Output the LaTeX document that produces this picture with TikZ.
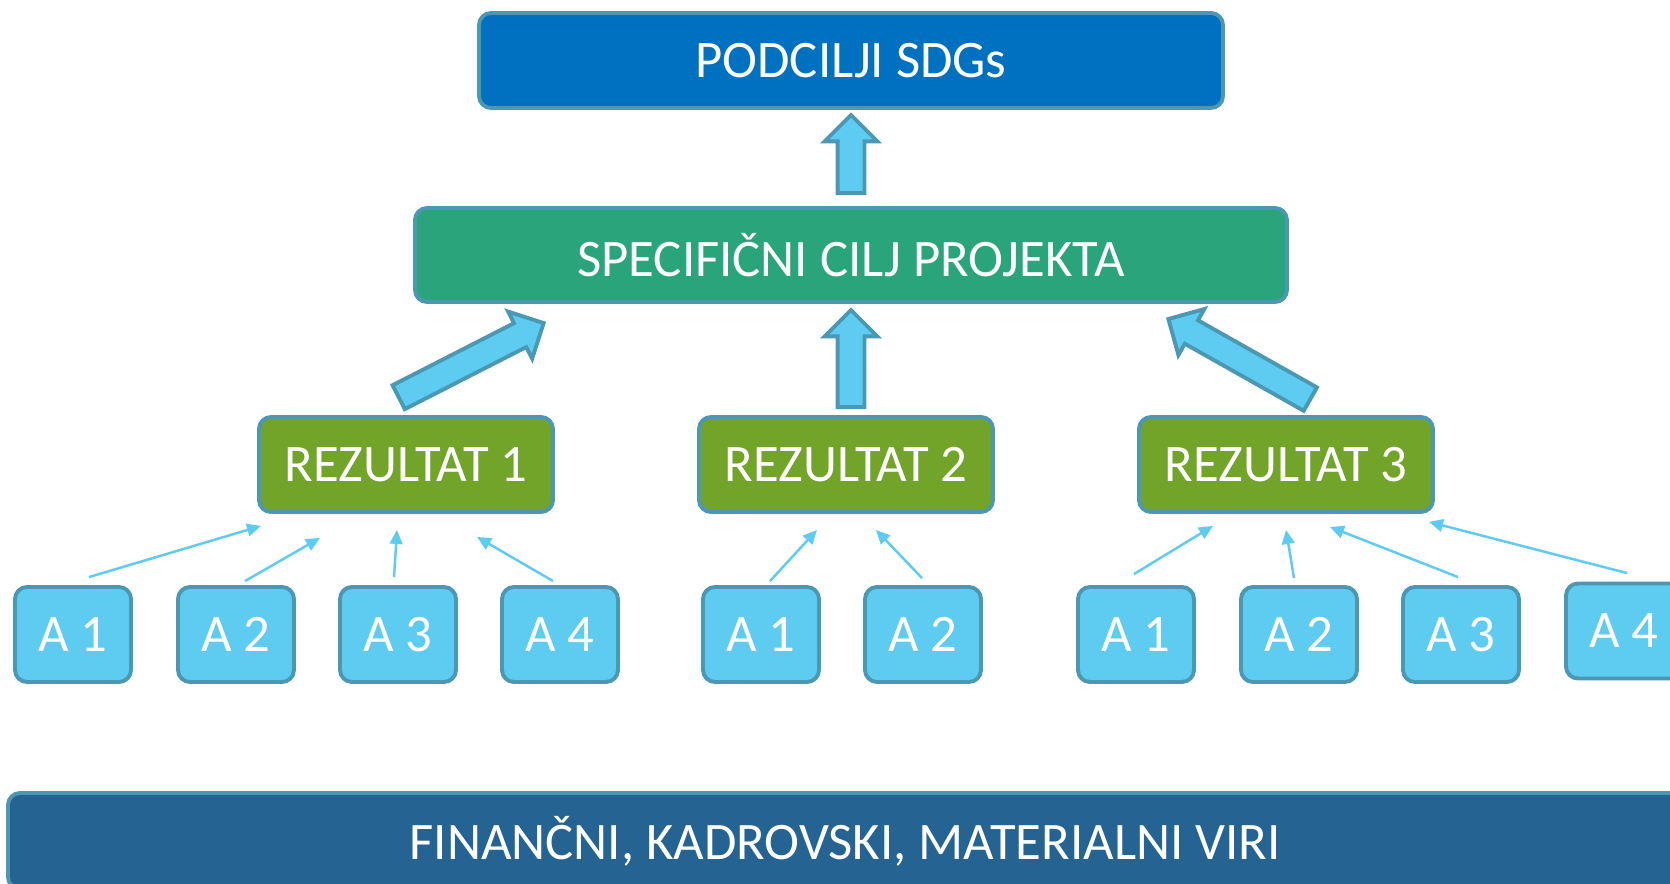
\documentclass[tikz,border=0pt]{standalone}
\usepackage{fontspec}
\setmainfont{Carlito}
\usetikzlibrary{shapes.arrows,arrows.meta,calc}
\definecolor{sdgblue}{RGB}{0,112,192}
\definecolor{ciljgreen}{RGB}{42,165,123}
\definecolor{rezgreen}{RGB}{115,164,42}
\definecolor{actblue}{RGB}{94,203,240}
\definecolor{rimblue}{RGB}{74,152,180}
\definecolor{virblue}{RGB}{36,99,146}
% fat arrow from #1 (tail) to #2 (tip)
\newcommand{\fatup}[2]{\path let \p1=(#1), \p2=(#2), \n1={atan2(\y2-\y1,\x2-\x1)}, \n2={veclen(\x2-\x1,\y2-\y1)} in node[fatarrow, rotate=\n1, minimum height=\n2, anchor=tail] at (\p1) {};}

\begin{document}
\begin{tikzpicture}
\tikzstyle{box}=[rectangle,rounded corners=0.12cm,draw=rimblue,line width=1.1pt,text=white,inner sep=0pt,font=\fontsize{15}{18}\selectfont]
\tikzstyle{sdgbox}=[box,fill=sdgblue,minimum width=7.44cm,minimum height=0.95cm]
\tikzstyle{ciljbox}=[box,fill=ciljgreen,minimum width=8.72cm,minimum height=0.94cm]
\tikzstyle{rezbox}=[box,fill=rezgreen,minimum width=2.94cm,minimum height=0.95cm]
\tikzstyle{actbox}=[box,fill=actblue,minimum width=1.16cm,minimum height=0.95cm]
\tikzstyle{virbox}=[box,fill=virblue,minimum width=16.74cm,minimum height=0.96cm]
\tikzstyle{fatarrow}=[single arrow,draw=rimblue,fill=actblue,line width=1.1pt,inner xsep=0pt,inner ysep=0.115cm,minimum width=0pt,single arrow head extend=0.13cm]
\tikzstyle{thinarr}=[draw=actblue,line width=0.7pt,-{Triangle[length=4pt,width=3.6pt]}]
\clip (0,0) rectangle (16.7,-8.84);
\fill[white] (0,0) rectangle (16.7,-8.84);
\node [sdgbox] (sdg) at (8.51,-0.605) {PODCILJI SDGs};
\node [ciljbox] (cilj) at (8.51,-2.55) {SPECIFIČNI CILJ PROJEKTA};
\node [rezbox] (r1) at (4.06,-4.645) {REZULTAT 1};
\node [rezbox] (r2) at (8.46,-4.645) {REZULTAT 2};
\node [rezbox] (r3) at (12.86,-4.645) {REZULTAT 3};
\node [actbox] (a11) at (0.73,-6.345) {A 1};
\node [actbox] (a12) at (2.36,-6.345) {A 2};
\node [actbox] (a13) at (3.98,-6.345) {A 3};
\node [actbox] (a14) at (5.60,-6.345) {A 4};
\node [actbox] (a21) at (7.61,-6.345) {A 1};
\node [actbox] (a22) at (9.23,-6.345) {A 2};
\node [actbox] (a31) at (11.36,-6.345) {A 1};
\node [actbox] (a32) at (12.99,-6.345) {A 2};
\node [actbox] (a33) at (14.61,-6.345) {A 3};
\node [actbox] (a34) at (16.24,-6.31) {A 4};
\node [virbox] (vir) at (8.45,-8.41) {FINANČNI, KADROVSKI, MATERIALNI VIRI};
% fat arrows
\fatup{$(cilj.north)+(0,0.11)$}{$(sdg.south)+(0,-0.07)$}
\fatup{$(r1.north)+(-0.09,0.17)$}{$(cilj.south)+(-3.09,-0.20)$}
\fatup{$(r2.north)+(0.05,0.06)$}{$(cilj.south)+(0,-0.08)$}
\fatup{$(r3.north)+(0.26,0.15)$}{$(cilj.south)+(3.19,-0.16)$}
% activities to results
\draw [thinarr] ([shift={(0.16,0.08)}]a11.north) -- ([shift={(-1.45,-0.12)}]r1.south);
\draw [thinarr] ([shift={(0.09,0.04)}]a12.north) -- ([shift={(-0.86,-0.24)}]r1.south);
\draw [thinarr] ([shift={(-0.04,0.08)}]a13.north) -- ([shift={(-0.09,-0.16)}]r1.south);
\draw [thinarr] ([shift={(-0.07,0.04)}]a14.north) -- ([shift={(0.71,-0.23)}]r1.south);
\draw [thinarr] ([shift={(0.09,0.04)}]a21.north) -- ([shift={(-0.29,-0.16)}]r2.south);
\draw [thinarr] ([shift={(-0.01,0.07)}]a22.north) -- ([shift={(0.30,-0.16)}]r2.south);
\draw [thinarr] ([shift={(-0.02,0.11)}]a31.north) -- ([shift={(-0.73,-0.12)}]r3.south);
\draw [thinarr] ([shift={(-0.05,0.07)}]a32.north) -- ([shift={(0,-0.16)}]r3.south);
\draw [thinarr] ([shift={(-0.03,0.08)}]a33.north) -- ([shift={(0.44,-0.13)}]r3.south);
\draw [thinarr] ([shift={(0.03,0.085)}]a34.north) -- ([shift={(1.43,-0.08)}]r3.south);
\end{tikzpicture}
\end{document}
